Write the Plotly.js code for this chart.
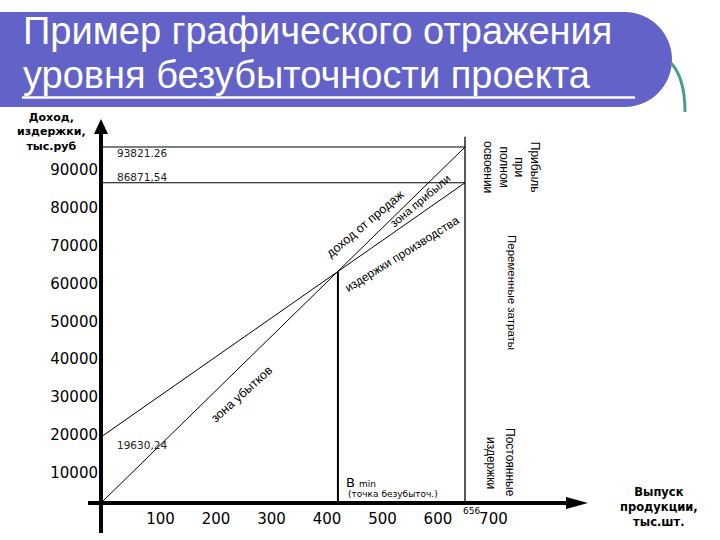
<!DOCTYPE html>
<html>
<head>
<meta charset="utf-8">
<script src="https://cdn.plot.ly/plotly-3.0.1.min.js"></script>
<style>html,body{margin:0;padding:0;background:#fff;}#chart{width:720px;height:540px;}</style>
</head>
<body>
<div id="chart"></div>
<script>
// ---- data ----
const outputQ = [0, 656];                 // выпуск, тыс.шт.
const revenueValues = [0, 93821.26];      // доход от продаж
const totalCostValues = [17400, 84400];   // издержки производства (as drawn)
const breakEvenQ = [427];                 // B min
const breakEvenValue = [61040];
const fullOutputLineTop = [96500];        // top of the vertical line at 656
const xTickValues = [100, 200, 300, 400, 500, 600, 700];
const yTickValues = [10000, 20000, 30000, 40000, 50000, 60000, 70000, 80000, 90000];
const yTickText = ['10000', '20000', '30000', '40000', '50000', '60000', '70000', '80000', '90000'];
const levelLabels = ['93821.26', '86871,54', '19630,24'];
const outputLabel = ['656'];

// ---- geometry helpers (page pixels -> paper) ----
const W = 720, H = 540;
const X0PX = 101, Y0PX = 503, XENDPX = 465, YENDPX = 147;
const kx = (XENDPX - X0PX) / outputQ[1];
const ky = (Y0PX - YENDPX) / revenueValues[1];
const xRange = [-X0PX / kx, (W - X0PX) / kx];
const yRange = [-(H - Y0PX) / ky, Y0PX / ky];
const px = x => x / W;
const py = y => 1 - y / H;
function pathPx(segs) {
  return segs.map(s => {
    const c = s[0]; const n = s.slice(1);
    const out = [];
    for (let i = 0; i < n.length; i += 2) out.push(px(n[i]).toFixed(5) + ',' + py(n[i + 1]).toFixed(5));
    return c + out.join(' ');
  }).join(' ');
}
const xTip = (588 - X0PX) / kx;
const yTip = (Y0PX - 119) / ky;

const lineStyle = {color: '#000', width: 1};
const traces = [
  {x: outputQ, y: revenueValues, mode: 'lines', line: lineStyle},
  {x: outputQ, y: totalCostValues, mode: 'lines', line: lineStyle},
  {x: outputQ, y: [revenueValues[1], revenueValues[1]], mode: 'lines', line: lineStyle},
  {x: outputQ, y: [totalCostValues[1], totalCostValues[1]], mode: 'lines', line: lineStyle},
  {x: [outputQ[1], outputQ[1]], y: [0, fullOutputLineTop[0]], mode: 'lines', line: {color: '#000', width: 1.3}},
  {x: [breakEvenQ[0], breakEvenQ[0]], y: [0, breakEvenValue[0]], mode: 'lines', line: {color: '#000', width: 2}}
];

const shapes = [
  // title banner
  {type: 'path', xref: 'paper', yref: 'paper', layer: 'below',
   path: pathPx([['M', 0, 12], ['L', 624.5, 12], ['C', 650.7, 12, 672, 33.3, 672, 59.5],
                 ['C', 672, 85.7, 650.7, 107, 624.5, 107], ['L', 0, 107], ['Z']]),
   fillcolor: '#6262C8', line: {width: 0}},
  {type: 'line', xref: 'paper', yref: 'paper', x0: px(22), x1: px(635), y0: py(97.5), y1: py(97.5),
   line: {color: '#ffffff', width: 2.5}},
  {type: 'path', xref: 'paper', yref: 'paper', path: pathPx([['M', 671, 63], ['Q', 685, 78, 685, 112]]),
   line: {color: '#4B9A8E', width: 3}},
  // axes
  {type: 'line', xref: 'x', yref: 'y', x0: (88 - X0PX) / kx, x1: xTip - 12 / kx, y0: 0, y1: 0,
   line: {color: '#000', width: 4}},
  {type: 'line', xref: 'x', yref: 'y', x0: 0, x1: 0, y0: -(533 - Y0PX) / ky, y1: yTip - 10 / ky,
   line: {color: '#000', width: 4}},
  {type: 'path', xref: 'x', yref: 'y', xsizemode: 'pixel', ysizemode: 'pixel', xanchor: xTip, yanchor: 0,
   path: 'M0,0 L-22,6 L-22,-6 Z', fillcolor: '#000', line: {width: 0}},
  {type: 'path', xref: 'x', yref: 'y', xsizemode: 'pixel', ysizemode: 'pixel', xanchor: 0, yanchor: yTip,
   path: 'M0,0 L-7,-15 L7,-15 Z', fillcolor: '#000', line: {width: 0}}
];

const sans = 'Liberation Sans, Arial, sans-serif';
const dv = 'DejaVu Sans, sans-serif';
function txt(text, x, y, opts) {
  return Object.assign({text: text, xref: 'paper', yref: 'paper', x: px(x), y: py(y),
    xanchor: 'center', yanchor: 'middle', showarrow: false,
    font: {family: sans, size: 12, color: '#000'}}, opts || {});
}
const annotations = [
  txt('Пример графического отражения', 21, 31, {xanchor: 'left', font: {family: sans, size: 38, color: '#fff'}}),
  txt('уровня безубыточности проекта', 21, 75, {xanchor: 'left', font: {family: sans, size: 38, color: '#fff'}}),
  txt('Доход,<br>издержки,<br>тыс.руб', 52, 132, {font: {family: dv, size: 11, color: '#000', weight: 'bold'}}),
  txt('Выпуск<br>продукции,<br>тыс.шт.', 659, 507, {font: {family: dv, size: 11.5, color: '#000', weight: 'bold'}}),
  // level labels
  {text: levelLabels[0], xref: 'x', yref: 'y', x: 0, y: revenueValues[1], xanchor: 'left', yanchor: 'middle',
   xshift: 14, yshift: -6, showarrow: false, font: {family: dv, size: 10.5, color: '#222'}},
  {text: levelLabels[1], xref: 'x', yref: 'y', x: 0, y: totalCostValues[1], xanchor: 'left', yanchor: 'middle',
   xshift: 14, yshift: 6, showarrow: false, font: {family: dv, size: 10.5, color: '#222'}},
  {text: levelLabels[2], xref: 'x', yref: 'y', x: 0, y: totalCostValues[0], xanchor: 'left', yanchor: 'middle',
   xshift: 14, yshift: -8, showarrow: false, font: {family: dv, size: 10.5, color: '#222'}},
  {text: outputLabel[0], xref: 'x', yref: 'y', x: outputQ[1], y: 0, xanchor: 'center', yanchor: 'middle',
   xshift: 6, yshift: -8, showarrow: false, font: {family: dv, size: 9, color: '#000'}},
  // along the lines
  txt('доход от продаж', 365, 224, {textangle: -40, font: {family: sans, size: 12.5, color: '#000'}}),
  txt('зона прибыли', 420, 201, {textangle: -40, font: {family: sans, size: 11.5, color: '#000'}}),
  txt('издержки производства', 402, 254, {textangle: -32, font: {family: sans, size: 12, color: '#000'}}),
  txt('зона убытков', 242, 394, {textangle: -42, font: {family: sans, size: 12.5, color: '#000'}}),
  // break-even
  {text: 'В <span style="font-size:9px">min</span>', xref: 'x', yref: 'paper', x: breakEvenQ[0], y: py(482),
   xanchor: 'left', yanchor: 'middle', xshift: 6, showarrow: false, font: {family: dv, size: 13, color: '#000'}},
  {text: '(точка безубыточ.)', xref: 'x', yref: 'paper', x: breakEvenQ[0], y: py(494),
   xanchor: 'left', yanchor: 'middle', xshift: 8, showarrow: false, font: {family: dv, size: 9, color: '#000'}},
  // right side vertical texts
  txt('Прибыль<br>при<br>полном<br>освоении', 512, 167, {textangle: 90, font: {family: sans, size: 12, color: '#000'}}),
  txt('Переменные затраты', 512, 292, {textangle: 90, font: {family: sans, size: 11.5, color: '#000'}}),
  txt('Постоянные', 510, 462, {textangle: 90, font: {family: sans, size: 12, color: '#000'}}),
  txt('издержки', 491, 463, {textangle: 90, font: {family: sans, size: 12, color: '#000'}})
];

const layout = {
  width: W, height: H,
  margin: {l: 0, r: 0, t: 0, b: 0, pad: 0},
  paper_bgcolor: '#ffffff', plot_bgcolor: '#ffffff',
  showlegend: false,
  xaxis: {range: xRange, anchor: 'free', position: (H - Y0PX) / H, showline: false, zeroline: false,
          showgrid: false, ticks: '', tickvals: xTickValues, ticklabelshift: 4, ticklabelstandoff: 5,
          tickfont: {family: dv, size: 15, color: '#000'}, automargin: false, fixedrange: true},
  yaxis: {range: yRange, anchor: 'free', position: X0PX / W, showline: false, zeroline: false,
          showgrid: false, ticks: '', tickvals: yTickValues, ticktext: yTickText, ticklabelshift: 8,
          ticklabelstandoff: 3,
          tickfont: {family: dv, size: 15, color: '#000'}, automargin: false, fixedrange: true},
  shapes: shapes,
  annotations: annotations
};

Plotly.newPlot('chart', traces, layout, {staticPlot: true, displayModeBar: false});
</script>
</body>
</html>
